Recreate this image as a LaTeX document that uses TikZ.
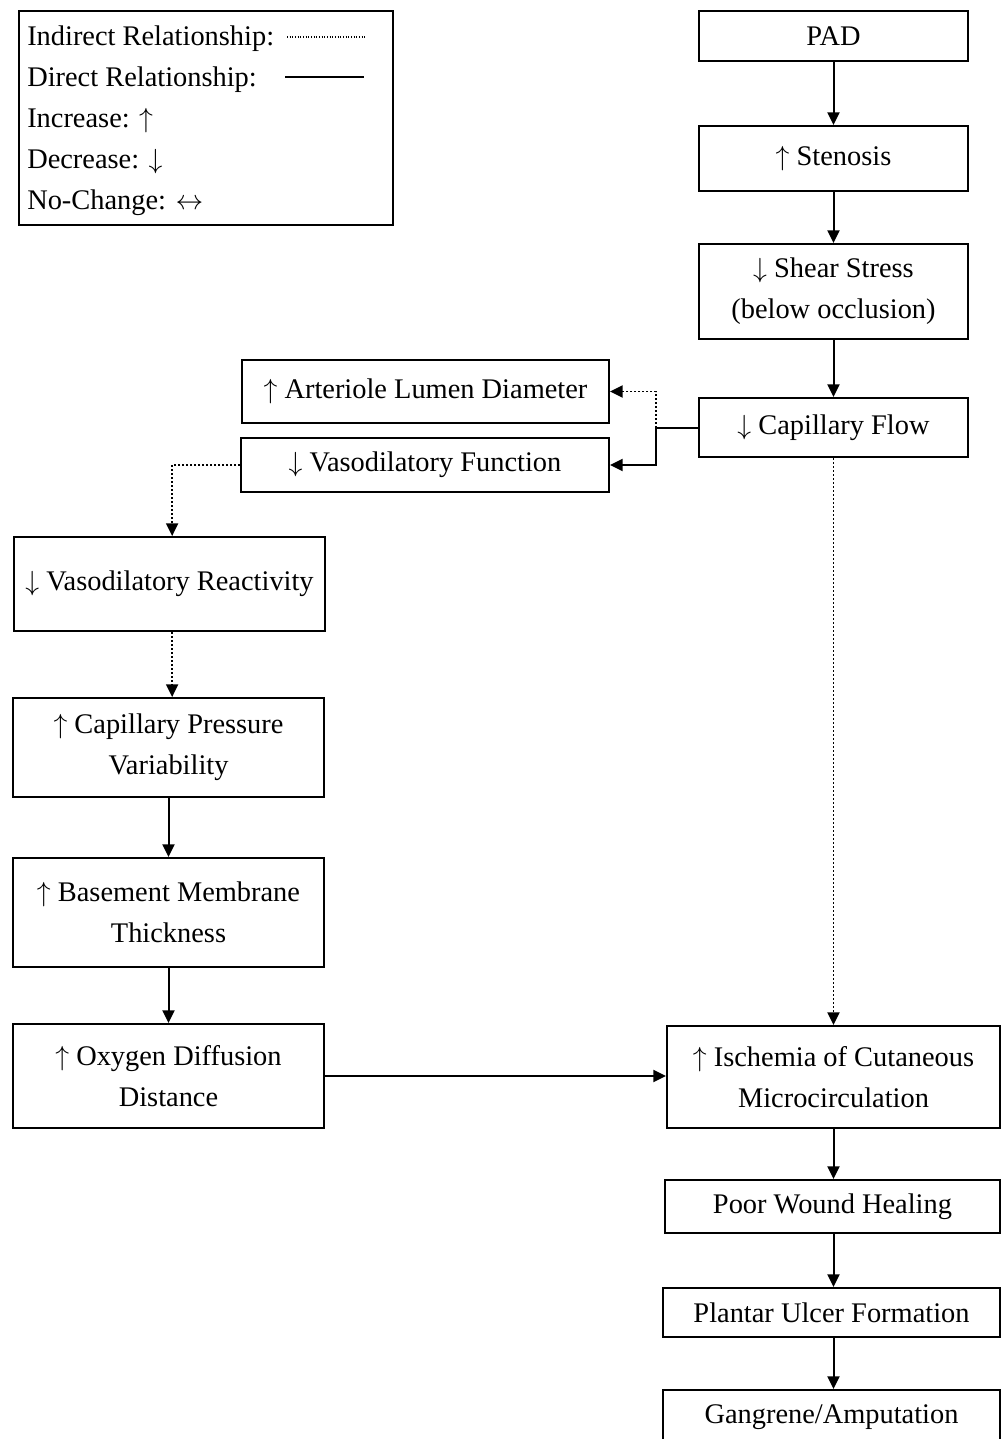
\documentclass[tikz,border=0pt]{standalone}
\usepackage{fontspec}
\setmainfont{Liberation Serif}
\usetikzlibrary{arrows.meta}
\newcommand\fsz{\fontsize{21.3}{30.75}\selectfont}
\begin{document}
\begin{tikzpicture}[x=0.75pt,y=-0.75pt,
  box/.style={draw, line width=1.5pt, align=center, inner sep=0pt, font=\fsz},
  sz/.style 2 args={minimum width=#1*0.75pt, minimum height=#2*0.75pt},
  leg/.style={anchor=west, inner sep=0pt, font=\fsz},
  solidline/.style={line width=1.5pt},
  legdot/.style={line width=0.8pt, dash pattern=on 0.8pt off 1.2pt},
  dotline/.style={line width=1.4pt, dash pattern=on 1.4pt off 1.6pt},
  arr/.style={solidline, -{Triangle[length=9.5pt,width=9pt]}},
  dotarr/.style={dotline, -{Triangle[length=9.5pt,width=9pt]}}]
\useasboundingbox (0,0) rectangle (1002,1439);
% legend
\node[box, sz={374}{214}] (legend) at (206,118) {};
\node[leg] (t1) at (27,39) {Indirect Relationship:};
\node[leg] (t2) at (27,80) {Direct Relationship:};
\node[leg] (t3) at (27,121) {Increase: $\uparrow$};
\node[leg] (t4) at (27,162) {Decrease: $\downarrow$};
\node[leg] (t5) at (27,203) {No-Change: $\leftrightarrow$};
\coordinate (l1a) at (287,37);
\coordinate (l1b) at (366,37);
\coordinate (l2a) at (285,77);
\coordinate (l2b) at (364,77);
\draw[legdot] (l1a) -- (l1b);
\draw[solidline] (l2a) -- (l2b);
% boxes
\node[box, sz={269}{50}] (pad) at (833.5,36) {PAD};
\node[box, sz={269}{65}] (sten) at (833.5,158.5) {$\uparrow$ Stenosis};
\node[box, sz={269}{95}] (shear) at (833.5,291.5) {$\downarrow$ Shear Stress\\(below occlusion)};
\node[box, sz={269}{59}] (cap) at (833.5,427.5) {$\downarrow$ Capillary Flow};
\node[box, sz={367}{63}] (art) at (425.5,391.5) {$\uparrow$ Arteriole Lumen Diameter};
\node[box, sz={368}{54}] (vfun) at (425,465) {$\downarrow$ Vasodilatory Function};
\node[box, sz={311}{94}] (vreact) at (169.5,584) {$\downarrow$ Vasodilatory Reactivity};
\node[box, sz={311}{99}] (cpv) at (168.5,747.5) {$\uparrow$ Capillary Pressure\\Variability};
\node[box, sz={311}{109}] (bm) at (168.5,912.5) {$\uparrow$ Basement Membrane\\Thickness};
\node[box, sz={311}{104}] (o2) at (168.5,1076) {$\uparrow$ Oxygen Diffusion\\Distance};
\node[box, sz={333}{102}] (isch) at (833.5,1077) {$\uparrow$ Ischemia of Cutaneous\\Microcirculation};
\node[box, sz={335}{53}] (pwh) at (832.5,1206.5) {Poor Wound Healing};
\node[box, sz={337}{49}] (puf) at (831.5,1312.5) {Plantar Ulcer Formation};
\node[box, sz={337}{54}] (gang) at (831.5,1417) {Gangrene/Amputation};
% connectors
\draw[arr] (pad) -- (sten);
\draw[arr] (sten) -- (shear);
\draw[arr] (shear) -- (cap);
\coordinate (j) at (656,427.5);
\draw[solidline] (cap.west) -- (j);
\draw[dotarr] (j) |- (art.east);
\draw[arr] (j) |- (vfun.east);
\draw[dotarr] (vfun.west) -| ([xshift=2pt]vreact.north);
\draw[dotarr] ([xshift=2pt]vreact.south) -- ([xshift=2pt]vreact.south |- cpv.north);
\draw[arr] (cpv) -- (bm);
\draw[arr] (bm) -- (o2);
\draw[arr] (o2.east) -- (o2.east -| isch.west);
\draw[dotarr] (cap.south) -- (cap.south |- isch.north);
\draw[arr] (isch.south) -- (isch.south |- pwh.north);
\draw[arr] (isch.south |- pwh.south) -- (isch.south |- puf.north);
\draw[arr] (isch.south |- puf.south) -- (isch.south |- gang.north);
\end{tikzpicture}
\end{document}
